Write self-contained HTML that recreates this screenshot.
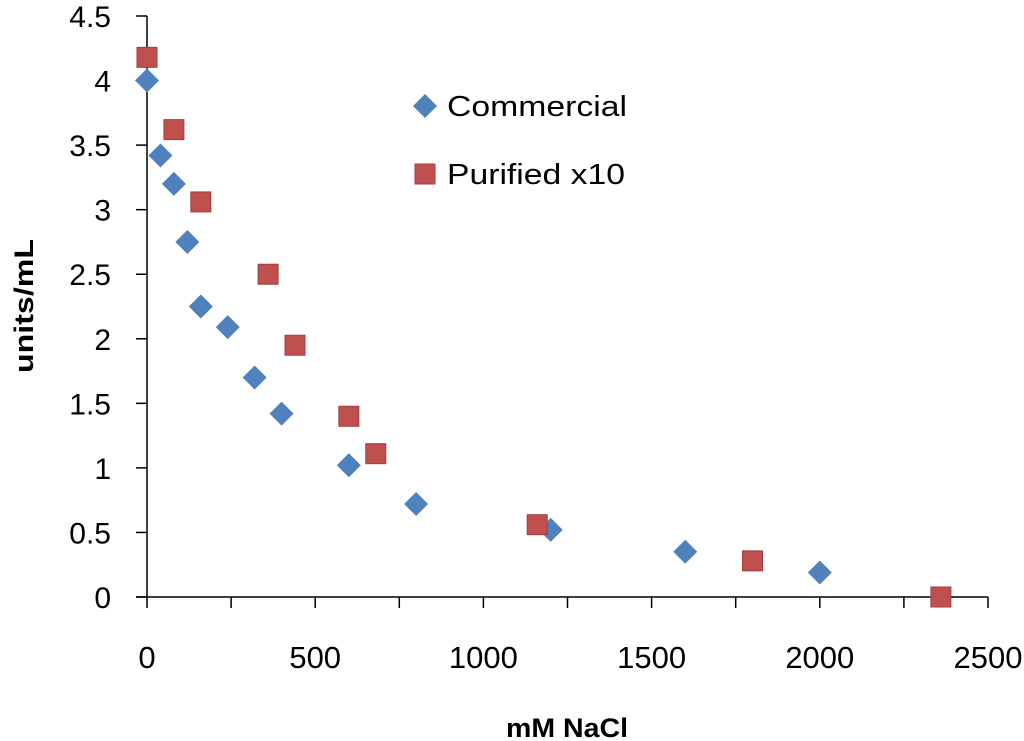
<!DOCTYPE html>
<html><head><meta charset="utf-8"><style>
html,body{margin:0;padding:0;background:#fff;}
svg{display:block;font-family:"Liberation Sans",sans-serif;}
</style></head><body>
<svg id="chart" width="1024" height="741" viewBox="0 0 1024 741">
<g id="axes"></g>
<g id="marks"></g>
<text x="567" y="737" text-anchor="middle" font-size="27" font-weight="bold" textLength="122" lengthAdjust="spacingAndGlyphs">mM NaCl</text>
<text transform="translate(33,306) rotate(-90)" text-anchor="middle" font-size="27" font-weight="bold" textLength="134" lengthAdjust="spacingAndGlyphs">units/mL</text>
<g>
<polygon points="425,94 437,106 425,118 413,106" fill="#4f81bd"/>
<text x="447" y="116" font-size="29" textLength="180" lengthAdjust="spacingAndGlyphs">Commercial</text>
<rect x="415" y="164" width="20" height="20" fill="#c0504d" stroke="#a0403d" stroke-width="1"/>
<text x="447" y="184" font-size="29" textLength="178" lengthAdjust="spacingAndGlyphs">Purified x10</text>
</g>
</svg>
<script>
const xTicks=[0,500,1000,1500,2000,2500];
const yTicks=[0,0.5,1,1.5,2,2.5,3,3.5,4,4.5];
const yTickLabels=["0","0.5","1","1.5","2","2.5","3","3.5","4","4.5"];
const commercialX=[0,40,80,120,160,240,320,400,600,800,1200,1600,2000];
const commercialY=[4.0,3.42,3.2,2.75,2.25,2.09,1.7,1.42,1.02,0.72,0.52,0.35,0.19];
const purifiedX=[0,80,160,360,440,600,680,1160,1800,2360];
const purifiedY=[4.18,3.62,3.06,2.5,1.95,1.4,1.11,0.56,0.28,0.0];
const NS="http://www.w3.org/2000/svg";
const X0=147,X1=988,Y0=597,Y1=16;
function sx(v){return X0+(v/2500)*(X1-X0);}
function sy(v){return Y0-(v/4.5)*(Y0-Y1);}
function mk(tag,attrs,parent){const e=document.createElementNS(NS,tag);for(const k in attrs)e.setAttribute(k,attrs[k]);parent.appendChild(e);return e;}
const axes=document.getElementById('axes');
let l=mk('line',{x1:X0,y1:Y1,x2:X0,y2:Y0,stroke:'#000','stroke-width':1.5},axes);


l=mk('line',{x1:X0-11,y1:Y0,x2:X1,y2:Y0,stroke:'#000','stroke-width':1.5},axes);


for(let i=0;i<=10;i++){
  const v=i*250;
  const t=mk('line',{x1:sx(v),y1:Y0,x2:sx(v),y2:Y0+11,stroke:'#000','stroke-width':1.5},axes);
  
  
}
xTicks.forEach(v=>{
  const t=mk('text',{x:sx(v),y:668,'text-anchor':'middle','font-size':31},axes);
  t.textContent=String(v);
  
  
});
yTicks.forEach((v,i)=>{
  const t=mk('line',{x1:X0-11,y1:sy(v),x2:X0,y2:sy(v),stroke:'#000','stroke-width':1.5},axes);
  
  
  const tx=mk('text',{x:111,y:sy(v)+11,'text-anchor':'end','font-size':30},axes);
  tx.textContent=yTickLabels[i];
  
  
});
const marks=document.getElementById('marks');
commercialX.forEach((xv,i)=>{
  const cx=sx(xv),cy=sy(commercialY[i]);
  const p=mk('polygon',{points:`${cx},${cy-12} ${cx+12},${cy} ${cx},${cy+12} ${cx-12},${cy}`,fill:'#4f81bd'},marks);
  
  
});
purifiedX.forEach((xv,i)=>{
  const cx=sx(xv),cy=sy(purifiedY[i]);
  const r=mk('rect',{x:cx-10,y:cy-10,width:20,height:20,fill:'#c0504d',stroke:'#a0403d','stroke-width':1},marks);
  
  
});
</script>
</body></html>
